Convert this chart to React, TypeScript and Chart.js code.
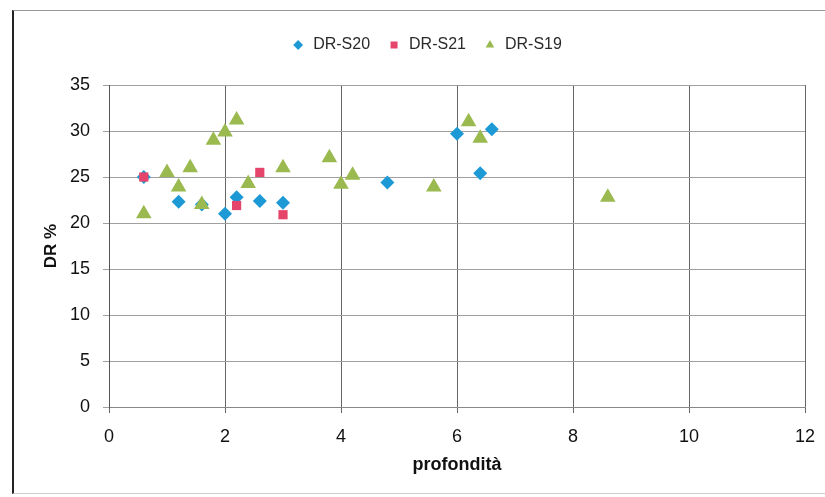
import React, { useEffect, useRef } from "react";
import { Chart, registerables } from "chart.js";

Chart.register(...registerables);

// Series data (x = profondità, y = DR %)
const s20X = [0.6, 1.2, 1.6, 2.0, 2.2, 2.6, 3.0, 4.8, 6.0, 6.4, 6.6];
const s20Y = [25.0, 22.3, 22.0, 21.0, 22.8, 22.4, 22.2, 24.4, 29.7, 25.4, 30.2];

const s21X = [0.6, 2.2, 2.6, 3.0];
const s21Y = [25.0, 21.9, 25.5, 20.9];

const s19X = [0.6, 1.0, 1.2, 1.4, 1.6, 1.8, 2.0, 2.2, 2.4, 3.0, 3.8, 4.0, 4.2, 5.6, 6.2, 6.4, 8.6];
const s19Y = [21.0, 25.5, 23.9, 26.0, 22.0, 29.0, 29.9, 31.2, 24.3, 26.0, 27.1, 24.2, 25.2, 23.9, 31.0, 29.2, 22.8];

const seriesNames = ["DR-S20", "DR-S21", "DR-S19"];
const xTitle = "profondità";
const yTitle = "DR %";
const xRange = [0, 12];
const xStep = 2;
const yRange = [0, 35];
const yStep = 5;

const toPoints = (xs: number[], ys: number[]) => xs.map((x, i) => ({ x, y: ys[i] }));

const FONT = "'Liberation Sans', Arial, sans-serif";

export default function App() {
  const canvasRef = useRef<HTMLCanvasElement | null>(null);

  useEffect(() => {
    if (!canvasRef.current) return;
    const legendSpacer = {
      id: "legendSpacer",
      beforeInit(chart: any) {
        const lg = chart.legend;
        if (!lg) return;
        const origFit = lg.fit;
        lg.fit = function () {
          origFit.bind(lg)();
          this.height += 22;
        };
        const origDraw = lg.draw;
        lg.draw = function () {
          const ctx = chart.ctx;
          ctx.save();
          ctx.translate(14, 0);
          origDraw.bind(lg)();
          ctx.restore();
        };
      },
    };

    const chart = new Chart(canvasRef.current, {
      type: "scatter",
      data: {
        datasets: [
          {
            label: seriesNames[0],
            data: toPoints(s20X, s20Y),
            pointStyle: "rectRot",
            pointRadius: 7,
            pointHoverRadius: 7,
            backgroundColor: "#1d9ad6",
            borderColor: "#1d9ad6",
            pointBorderWidth: 0,
            order: 3,
          },
          {
            label: seriesNames[1],
            data: toPoints(s21X, s21Y),
            pointStyle: "rect",
            pointRadius: 6.5,
            pointHoverRadius: 6.5,
            backgroundColor: "#e6456b",
            borderColor: "#e6456b",
            pointBorderWidth: 0,
            order: 2,
          },
          {
            label: seriesNames[2],
            data: toPoints(s19X, s19Y),
            pointStyle: "triangle",
            pointRadius: 9,
            pointHoverRadius: 9,
            backgroundColor: "#9aba50",
            borderColor: "#9aba50",
            pointBorderWidth: 0,
            order: 1,
          },
        ],
      },
      options: {
        responsive: false,
        animation: false,
        layout: { padding: { left: 20, right: 20, top: 20, bottom: 10 } },
        plugins: {
          tooltip: { enabled: false },
          legend: {
            display: true,
            position: "top",
            labels: {
              usePointStyle: true,
              boxWidth: 14,
              boxHeight: 7,
              padding: 17,
              color: "#2a2a2a",
              font: { family: FONT, size: 16 },
              sort: (a: any, b: any) => a.datasetIndex - b.datasetIndex,
            },
          },
        },
        scales: {
          x: {
            type: "linear",
            min: xRange[0],
            max: xRange[1],
            afterFit: (scale: any) => {
              scale.height = 80;
              scale.paddingLeft = 0;
              scale.paddingRight = 0;
            },
            ticks: {
              stepSize: xStep,
              padding: 13,
              color: "#111",
              font: { family: FONT, size: 18 },
            },
            grid: { color: "#666", tickLength: 6, lineWidth: 1 },
            border: { color: "#888", width: 1 },
            title: {
              display: true,
              text: xTitle,
              color: "#111",
              font: { family: FONT, size: 18, weight: "bold" },
              padding: { top: 0, bottom: 11 },
            },
          },
          y: {
            type: "linear",
            min: yRange[0],
            max: yRange[1],
            afterFit: (scale: any) => {
              scale.width = 89;
            },
            ticks: {
              stepSize: yStep,
              padding: 13,
              color: "#111",
              font: { family: FONT, size: 18 },
            },
            grid: { color: "#a0a0a0", tickLength: 6, lineWidth: 1 },
            border: { color: "#555", width: 1 },
            title: {
              display: true,
              text: yTitle,
              color: "#111",
              font: { family: FONT, size: 17, weight: "bold" },
              padding: { top: 21, bottom: 0 },
            },
          },
        },
      },
      plugins: [legendSpacer],
    });
    return () => chart.destroy();
  }, []);

  return (
    <div style={{ position: "absolute", left: 0, top: 0, width: 825, height: 497, background: "#fff", overflow: "hidden" }}>
      <div
        style={{
          position: "absolute",
          left: 12,
          top: 10,
          width: 840,
          height: 484,
          borderLeft: "2px solid #222",
          borderTop: "1px solid #999",
          borderBottom: "1px solid #ccc",
          boxSizing: "border-box",
        }}
      />
      <canvas
        ref={canvasRef}
        width={825}
        height={497}
        style={{ position: "absolute", left: 0, top: 0, width: 825, height: 497 }}
      />
    </div>
  );
}
